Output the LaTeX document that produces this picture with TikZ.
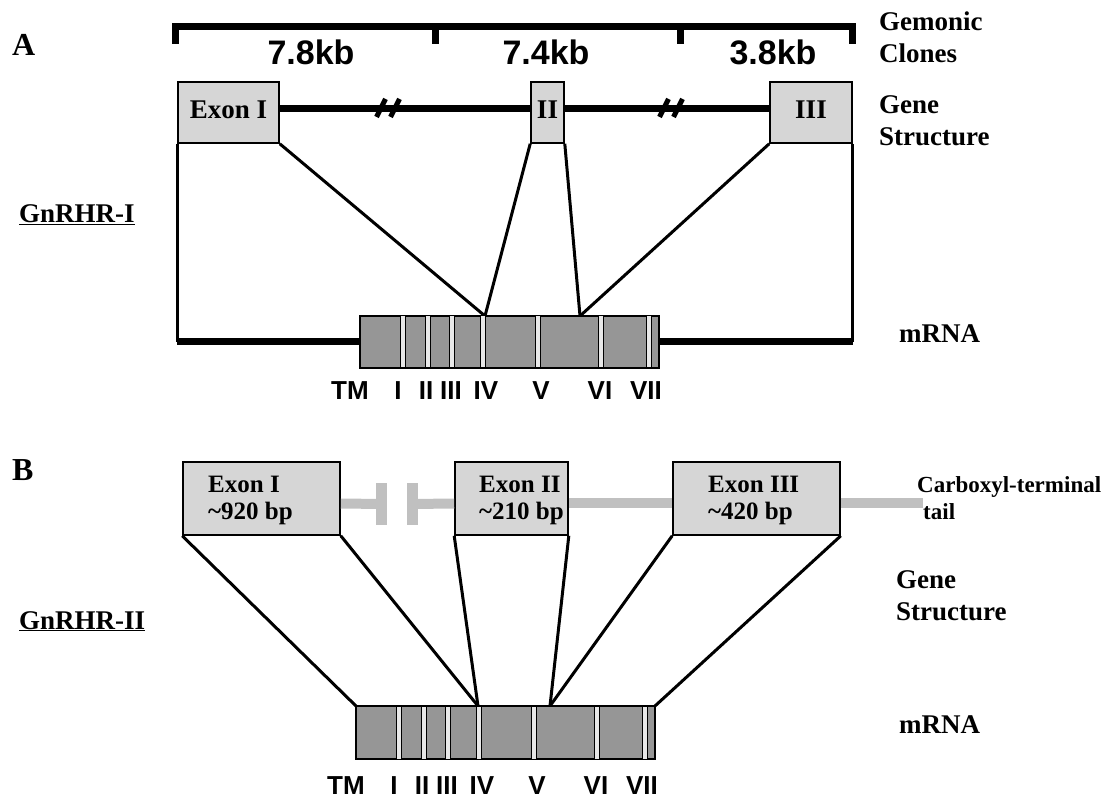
\documentclass[tikz,border=0pt]{standalone}
\usepackage{fontspec}
\setmainfont{Liberation Serif}
\setsansfont{Liberation Sans}
\usetikzlibrary{calc}

\definecolor{cexon}{HTML}{D6D6D6}
\definecolor{cmrna}{HTML}{969696}
\definecolor{cfaixa}{HTML}{E8E8E8}
\definecolor{ccinza}{HTML}{C0C0C0}

\begin{document}
\begin{tikzpicture}[x=1pt,y=-1pt]

    % Área total da figura (em pixels)
    \useasboundingbox (0,0) rectangle (1112,799);

    % Alturas dos blocos (exons e mRNA)
    \def\hexa{61pt}
    \def\hexb{73pt}
    \def\hmr{52pt}

    % Estilos dos blocos
    \tikzstyle{exonbox} = [
      draw, fill=cexon, rectangle, line width=1.6pt, inner sep=0pt,
      minimum height=\hexa, text height=12pt,
      font=\fontsize{27}{32}\selectfont\bfseries
    ];
    \tikzstyle{exonboxb} = [
      draw, fill=cexon, rectangle, line width=1.6pt, inner sep=0pt,
      minimum height=\hexb
    ];
    \tikzstyle{mrnabox} = [
      draw, fill=cmrna, rectangle, line width=1.6pt, inner sep=0pt,
      outer sep=0pt, minimum height=\hmr
    ];
    \tikzstyle{faixa} = [draw, fill=cfaixa, line width=1pt];
    \tikzstyle{corte} = [fill=ccinza, inner sep=0pt, minimum width=11pt, minimum height=42pt];

    % Estilos das linhas
    \tikzstyle{linha} = [line width=3pt];
    \tikzstyle{grossa} = [line width=7pt];
    \tikzstyle{cinza} = [line width=10pt, ccinza];

    % Estilos dos textos (base = linha de base da última linha)
    \tikzstyle{rotulo} = [inner sep=0pt, align=left, font=\fontsize{27}{32}\selectfont\bfseries];
    \tikzstyle{rotulob} = [inner sep=0pt, align=left, font=\fontsize{25}{28}\selectfont\bfseries];
    \tikzstyle{painel} = [inner sep=0pt, font=\fontsize{32}{36}\selectfont\bfseries];
    \tikzstyle{kb} = [inner sep=0pt, font=\fontsize{34}{40}\selectfont\sffamily\bfseries];
    \tikzstyle{tm} = [inner sep=0pt, font=\fontsize{26}{30}\selectfont\sffamily\bfseries];

    % ---------------- Painel A ----------------
    \node[painel, anchor=base west] (pA) at (12,56) {A};
    \node[rotulo, anchor=base west] (gnA) at (19,223) {\underline{GnRHR-I}};

    % Régua dos clones genômicos
    \draw[grossa] (175,44) -- (175,27) -- (852,27) -- (852,44);
    \foreach \x in {435,680}
      \draw[grossa] (\x,27) -- (\x,44);
    \foreach \x/\t in {311/7.8kb, 546/7.4kb, 773/3.8kb}
      \node[kb, anchor=base] at (\x,65) {\t};

    % Exons do gene
    \node[exonbox, minimum width=101pt] (exA1) at (228.5,112.5) {Exon I};
    \node[exonbox, minimum width=33pt] (exA2) at (547.5,112.5) {II};
    \node[exonbox, minimum width=82pt] (exA3) at (811,112.5) {III};

    % Linha do gene com as quebras
    \draw[grossa] ([yshift=4pt]exA1.east) -- ([yshift=4pt]exA2.west);
    \draw[grossa] ([yshift=4pt]exA2.east) -- ([yshift=4pt]exA3.west);
    \foreach \c in {388,671}
      \foreach \dx in {-7,7}
        \draw[line width=5pt] (\c+\dx-4.5,117) -- (\c+\dx+4.5,99);

    \node[rotulo, anchor=base west] (clones) at (879,63) {Gemonic\\Clones};
    \node[rotulo, anchor=base west] (genA) at (879,146) {Gene\\Structure};

    % mRNA
    \node[mrnabox, minimum width=299pt] (mrnaA) at (509.5,342) {};
    \node[rotulo, anchor=base west] (mA) at (899,343) {mRNA};

    \coordinate (cantoA1) at (exA1.south west |- mrnaA.west);
    \coordinate (cantoA2) at (exA3.south east |- mrnaA.east);
    \coordinate (spA1) at ($(mrnaA.north west)+(125,0)$);
    \coordinate (spA2) at ($(mrnaA.north west)+(220,0)$);

    \draw[linha] (exA1.south west) -- (cantoA1);
    \draw[linha] (exA3.south east) -- (cantoA2);
    \draw[grossa] (cantoA1) -- (mrnaA.west);
    \draw[grossa] (mrnaA.east) -- (cantoA2);
    \draw[linha] (exA1.south east) -- (spA1);
    \draw[linha] (exA2.south west) -- (spA1);
    \draw[linha] (exA2.south east) -- (spA2);
    \draw[linha] (exA3.south west) -- (spA2);

    % ---------------- Painel B ----------------
    \node[painel, anchor=base west] (pB) at (12,481) {B};
    \node[rotulo, anchor=base west] (gnB) at (19,629) {\underline{GnRHR-II}};

    % Exons do gene
    \node[exonboxb, minimum width=157pt] (exB1) at (261.5,498.5) {};
    \node[exonboxb, minimum width=113pt] (exB2) at (511.5,498.5) {};
    \node[exonboxb, minimum width=167pt] (exB3) at (756.5,498.5) {};
    \node[rotulob, anchor=base west] at (208,520) {Exon I\\\textasciitilde920 bp};
    \node[rotulob, anchor=base west] at (479,520) {Exon II\\\textasciitilde210 bp};
    \node[rotulob, anchor=base west] at (708,520) {Exon III\\\textasciitilde420 bp};

    % Ligações cinzas entre exons
    \node[corte] (cut1) at (381.5,504) {};
    \node[corte] (cut2) at (412.5,504) {};
    \coordinate (cauda) at (923,503.5);
    \draw[cinza] ([yshift=-5pt]exB1.east) -- (cut1.center);
    \draw[cinza] (cut2.center) -- ([yshift=-5pt]exB2.west);
    \draw[cinza] ([yshift=-5pt]exB2.east) -- ([yshift=-5pt]exB3.west);
    \draw[cinza] ([yshift=-5pt]exB3.east) -- (cauda);

    \node[rotulob, anchor=base west, font=\fontsize{23}{28}\selectfont\bfseries] (cterm) at (917,520)
      {Carboxyl-terminal\\\hspace*{6pt}tail};
    \node[rotulo, anchor=base west] (genB) at (896,620) {Gene\\Structure};

    % mRNA
    \node[mrnabox, minimum width=299pt, minimum height=53pt] (mrnaB) at (505.5,732.5) {};
    \node[rotulo, anchor=base west] (mB) at (899,733) {mRNA};

    \coordinate (spB1) at ($(mrnaB.north west)+(122,0)$);
    \coordinate (spB2) at ($(mrnaB.north west)+(194,0)$);

    \draw[linha] (exB1.south west) -- (mrnaB.north west);
    \draw[linha] (exB1.south east) -- (spB1);
    \draw[linha] (exB2.south west) -- (spB1);
    \draw[linha] (exB2.south east) -- (spB2);
    \draw[linha] (exB3.south west) -- (spB2);
    \draw[linha] (exB3.south east) -- (mrnaB.north east);

    % Faixas claras (segmentos transmembrana) nos dois mRNAs
    \foreach \m/\h in {mrnaA/52,mrnaB/53}
      \foreach \d in {40,65,89,120,175,238,286}
        \draw[faixa] ($(\m.south west)+(\d,0)$) rectangle ++(5,-\h);

    % Rótulos TM abaixo dos mRNAs
    \foreach \d/\t in {-10/TM,38/I,66/II,91/III,126/IV,181/V,240/VI,286/VII} {
      \node[tm, anchor=base] at (360+\d,400) {\t};
      \node[tm, anchor=base] at (356+\d,794) {\t};
    }

\end{tikzpicture}
\end{document}
